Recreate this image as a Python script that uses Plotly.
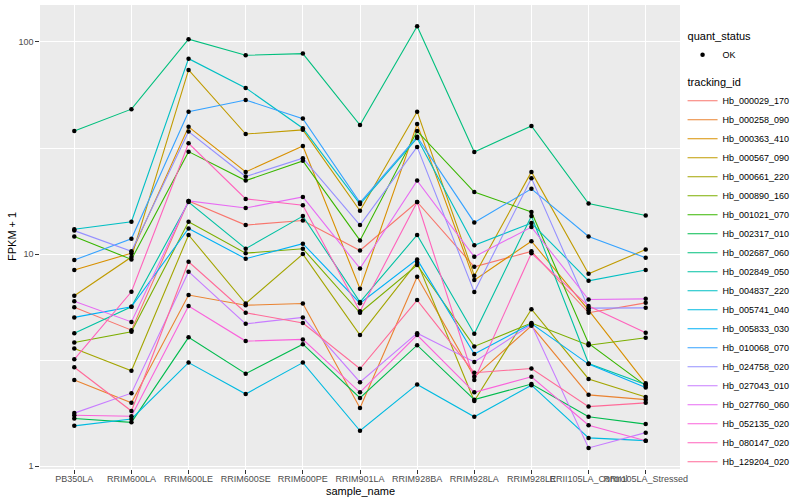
import plotly.graph_objects as go

samples = ["PB350LA", "RRIM600LA", "RRIM600LE", "RRIM600SE", "RRIM600PE", "RRIM901LA",
           "RRIM928BA", "RRIM928LA", "RRIM928LE", "RRII105LA_Control", "RRII105LA_Stressed"]

tracking_ids = ["Hb_000029_170", "Hb_000258_090", "Hb_000363_410", "Hb_000567_090",
                "Hb_000661_220", "Hb_000890_160", "Hb_001021_070", "Hb_002317_010",
                "Hb_002687_060", "Hb_002849_050", "Hb_004837_220", "Hb_005741_040",
                "Hb_005833_030", "Hb_010068_070", "Hb_024758_020", "Hb_027043_010",
                "Hb_027760_060", "Hb_052135_020", "Hb_080147_020", "Hb_129204_020"]

hb_000029_170 = [5.61, 4.38, 17.8, 13.7, 14.4, 10.4, 17.6, 8.71, 10.3, 5.29, 5.89]
hb_000258_090 = [2.55, 1.99, 6.41, 5.74, 5.85, 1.88, 7.82, 2.64, 4.59, 2.17, 2.06]
hb_000363_410 = [8.41, 10.1, 39.8, 24.4, 32.3, 6.86, 41.0, 7.54, 11.5, 5.44, 2.46]
hb_000567_090 = [6.36, 9.68, 73.8, 36.8, 38.5, 16.0, 46.9, 7.91, 24.4, 8.08, 10.5]
hb_000661_220 = [3.59, 2.82, 12.3, 5.85, 10.0, 4.15, 9.17, 2.03, 5.50, 2.58, 2.12]
hb_000890_160 = [3.83, 4.30, 14.2, 10.1, 10.6, 5.29, 8.88, 3.67, 4.73, 3.72, 4.03]
hb_001021_070 = [12.1, 9.44, 30.4, 22.2, 27.5, 11.6, 38.0, 19.6, 15.8, 3.79, 2.40]
hb_002317_010 = [1.68, 1.61, 4.05, 2.73, 3.76, 2.10, 3.72, 2.06, 2.44, 1.71, 1.58]
hb_002687_060 = [38.0, 48.2, 103.0, 86.5, 88.1, 40.6, 118.6, 30.3, 40.2, 17.3, 15.2]
hb_002849_050 = [4.23, 5.64, 17.6, 10.6, 15.1, 5.94, 12.3, 4.21, 15.1, 3.05, 2.43]
hb_004837_220 = [13.1, 14.2, 83.4, 60.7, 39.2, 17.2, 35.2, 11.0, 14.0, 7.48, 8.41]
hb_005741_040 = [1.55, 1.67, 3.08, 2.19, 3.08, 1.47, 2.43, 1.71, 2.41, 1.36, 1.32]
hb_005833_030 = [5.03, 5.64, 13.2, 9.51, 11.2, 5.87, 9.44, 3.38, 4.70, 3.03, 2.35]
hb_010068_070 = [9.37, 11.8, 46.9, 53.2, 43.5, 17.5, 35.7, 14.1, 20.3, 12.1, 9.61]
hb_024758_020 = [12.9, 10.3, 37.8, 23.2, 28.3, 13.7, 32.0, 6.62, 22.8, 5.56, 5.58]
hb_027043_010 = [1.78, 2.21, 8.26, 4.69, 5.03, 2.49, 4.24, 3.10, 4.65, 1.22, 1.44]
hb_027760_060 = [6.00, 4.79, 17.8, 16.5, 18.6, 8.56, 22.2, 9.71, 13.4, 6.11, 6.15]
hb_052135_020 = [1.74, 1.72, 5.69, 3.89, 3.96, 2.23, 4.15, 2.23, 2.64, 1.56, 1.32]
hb_080147_020 = [3.19, 6.64, 33.3, 18.2, 17.0, 5.38, 17.6, 2.55, 10.1, 5.69, 4.26]
hb_129204_020 = [2.93, 1.82, 9.20, 5.29, 4.73, 2.88, 6.07, 2.76, 2.89, 1.91, 1.99]

series = [hb_000029_170, hb_000258_090, hb_000363_410, hb_000567_090, hb_000661_220,
          hb_000890_160, hb_001021_070, hb_002317_010, hb_002687_060, hb_002849_050,
          hb_004837_220, hb_005741_040, hb_005833_030, hb_010068_070, hb_024758_020,
          hb_027043_010, hb_027760_060, hb_052135_020, hb_080147_020, hb_129204_020]

colors = ["#F8766D", "#EA8331", "#D89000", "#C09B00", "#A3A500", "#7CAE00", "#39B600",
          "#00BB4E", "#00BF7D", "#00C1A3", "#00BFC4", "#00BAE0", "#00B0F6", "#35A2FF",
          "#9590FF", "#C77CFF", "#E76BF3", "#FA62DB", "#FF62BC", "#FF6A98"]

y_ticks = [1, 10, 100]
y_minor = [3.1623, 31.623]

FONT = "Liberation Sans, Arial, sans-serif"

fig = go.Figure()

for i, (tid, vals, col) in enumerate(zip(tracking_ids, series, colors)):
    fig.add_trace(go.Scatter(
        x=samples, y=vals, mode="lines", name=tid,
        line=dict(color=col, width=1.1),
        legendgroup="tid",
        legendgrouptitle=dict(text="tracking_id", font=dict(size=11, color="#000000")) if i == 0 else None,
        legendrank=10 + i,
    ))

all_x = [s for vals in series for s in samples]
all_y = [v for vals in series for v in vals]
fig.add_trace(go.Scatter(
    x=all_x, y=all_y, mode="markers", name="OK",
    marker=dict(color="black", size=4.5),
    legendgroup="qs",
    legendgrouptitle=dict(text="quant_status", font=dict(size=11, color="#000000")),
    legendrank=1,
))

fig.update_layout(
    width=800, height=500,
    margin=dict(l=40, r=116, t=5, b=31),
    paper_bgcolor="white",
    plot_bgcolor="#EBEBEB",
    font=dict(family=FONT, size=9, color="#4D4D4D"),
    showlegend=True,
    legend=dict(
        x=1.004, xanchor="left", y=0.965, yanchor="top",
        font=dict(size=9, color="#000000"),
        tracegroupgap=8,
        itemwidth=30,
        bgcolor="rgba(0,0,0,0)",
    ),
    xaxis=dict(
        type="category",
        categoryorder="array", categoryarray=samples,
        range=[-0.6, 10.6],
        showgrid=True, gridcolor="white", gridwidth=1.07,
        zeroline=False, showline=False,
        ticks="outside", ticklen=3.7, tickcolor="#333333", tickwidth=1,
        tickangle=0,
        ticklabelstandoff=-3,
        tickfont=dict(size=9, color="#4D4D4D"),
        automargin=False,
    ),
    yaxis=dict(
        type="log",
        range=[-0.013, 2.174],
        tickvals=y_ticks, ticktext=["1", "10", "100"],
        showgrid=True, gridcolor="white", gridwidth=1.07,
        minor=dict(tickvals=y_minor, showgrid=True, gridcolor="white", gridwidth=0.55, ticks=""),
        zeroline=False, showline=False,
        ticks="outside", ticklen=3.7, tickcolor="#333333", tickwidth=1,
        tickfont=dict(size=9, color="#4D4D4D"),
        automargin=False,
    ),
    annotations=[
        dict(text="sample_name", xref="paper", yref="paper", x=0.5, y=0,
             xanchor="center", yanchor="middle", yshift=-22, showarrow=False,
             font=dict(size=11, color="#000000")),
        dict(text="FPKM + 1", xref="paper", yref="paper", x=0, y=0.5,
             xanchor="center", yanchor="middle", xshift=-28, textangle=-90,
             showarrow=False, font=dict(size=11, color="#000000")),
    ],
)

fig.write_html("out.html", config={"displayModeBar": False},
               post_script="document.body.style.margin='0';document.body.style.overflow='hidden';")
